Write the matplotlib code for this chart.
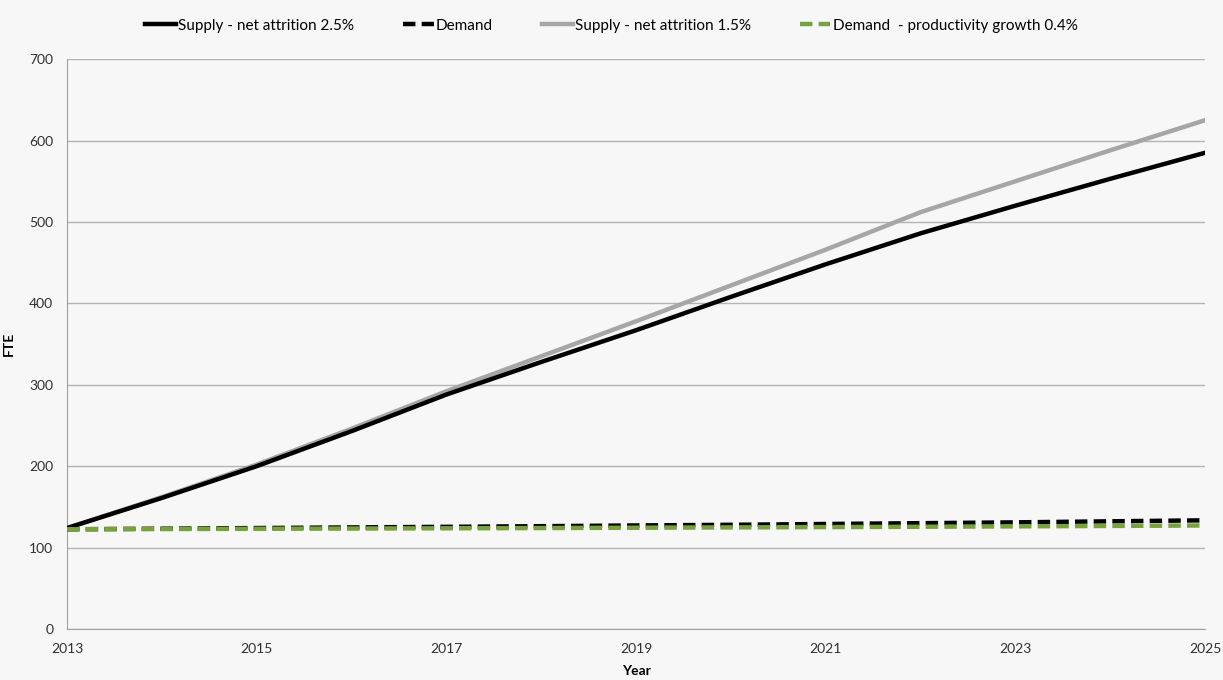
import matplotlib.pyplot as plt

plt.rcParams['font.family'] = ['Lato', 'DejaVu Sans']

# Dados
anos = list(range(2013, 2026))
oferta_25 = [124, 161, 200, 243, 288, 328, 367, 408, 448, 486, 520, 553, 585]
procura = [122.5, 123.2, 124.0, 124.8, 125.5, 126.3, 127.2, 128.0, 129.0, 130.0, 131.0, 132.3, 133.5]
oferta_15 = [124, 162, 202, 246, 292, 335, 378, 422, 466, 512, 550, 588, 625]
procura_prod = [122.5, 122.8, 123.1, 123.4, 123.7, 124.0, 124.4, 124.8, 125.2, 125.6, 126.1, 126.6, 127.2]

fundo = '#f7f7f7'
fig = plt.figure(figsize=(12.23, 6.8), dpi=100, facecolor=fundo)
ax = fig.add_axes([0.0548, 0.075, 0.9305, 0.838], facecolor=fundo)

ax.plot(anos, oferta_25, color='black', lw=3.2, label='Supply - net attrition 2.5%', zorder=4)
ax.plot(anos, procura, color='black', lw=3.2, dashes=(2.8, 1.4), label='Demand', zorder=3)
ax.plot(anos, oferta_15, color='#a6a6a6', lw=3.2, label='Supply - net attrition 1.5%', zorder=3)
ax.plot(anos, procura_prod, color='#77a33c', lw=3.2, dashes=(2.8, 1.4),
        label='Demand  - productivity growth 0.4%', zorder=4)

ax.set_xlim(2013, 2025)
ax.set_ylim(0, 700)
ax.set_xticks(range(2013, 2026, 2))
ax.set_yticks(range(0, 701, 100))
ax.grid(axis='y', color='#b4b4b4', lw=1)
ax.set_axisbelow(True)
for lado in ['top', 'right']:
    ax.spines[lado].set_visible(False)
for lado in ['left', 'bottom']:
    ax.spines[lado].set_color('#a0a0a0')
ax.tick_params(length=0, labelsize=10, colors='#303030')
ax.tick_params(axis='x', pad=10)
ax.tick_params(axis='y', pad=10)

ax.set_xlabel('Year', fontweight='bold', fontsize=10)
ax.xaxis.set_label_coords(0.5, -0.063)
ax.set_ylabel('FTE', fontweight='bold', fontsize=10)
ax.yaxis.set_label_coords(-0.046, 0.5)

fig.legend(loc='upper center', bbox_to_anchor=(0.5, 0.993), ncol=4, frameon=False,
           fontsize=11, handlelength=2.0, handletextpad=0.15, columnspacing=3.2)

plt.savefig('out.png', dpi=100, facecolor=fundo)
